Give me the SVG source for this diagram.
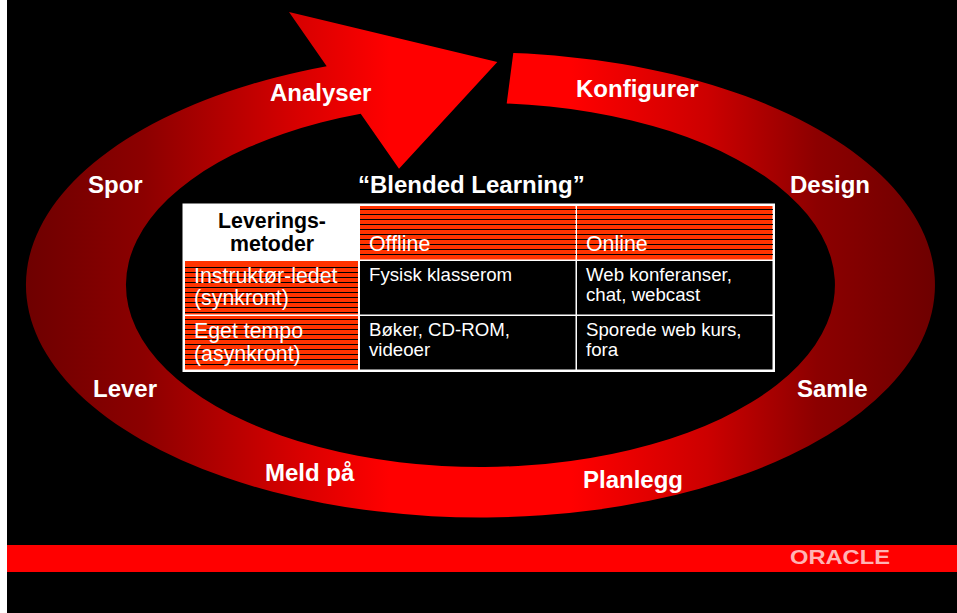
<svg xmlns="http://www.w3.org/2000/svg" width="957" height="613" viewBox="0 0 957 613">
<style>
text{font-family:"Liberation Sans",Arial,sans-serif}
.l{font-size:24px;font-weight:bold;fill:#fff}
.h{font-size:21.33px;font-weight:bold;fill:#000;text-anchor:middle}
.m{font-size:21.33px;fill:#fff}
.c{font-size:18.67px;fill:#fff}
.o{fill:#ff3300}
.s{stroke:#000;stroke-width:1;fill:none;shape-rendering:crispEdges}
</style>
<defs>
<linearGradient id="g" gradientUnits="userSpaceOnUse" x1="26" y1="0" x2="935" y2="0">
<stop offset="0" stop-color="#6e0000"/>
<stop offset=".13" stop-color="#8c0000"/>
<stop offset=".3" stop-color="#d80000"/>
<stop offset=".4" stop-color="#ff0000"/>
<stop offset=".6" stop-color="#ff0000"/>
<stop offset=".75" stop-color="#cc0000"/>
<stop offset=".87" stop-color="#8c0000"/>
<stop offset="1" stop-color="#6e0000"/>
</linearGradient>
</defs>
<rect width="957" height="613" fill="#fff"/>
<rect x="7" width="950" height="613" fill="#000"/>
<path id="ring" fill="url(#g)" d="M513.3,53.1A454.5,232.5 0 1 1 326.7,66.2L289,12L497.3,62L399,168.7L360.7,113.7A354.5,182 0 1 0 506.7,103.5Z"/>
<g id="labels">
<text class="l" x="270" y="101">Analyser</text>
<text class="l" x="576" y="97">Konfigurer</text>
<text class="l" x="88" y="193">Spor</text>
<text class="l" x="790" y="193">Design</text>
<text class="l" x="93" y="397">Lever</text>
<text class="l" x="797" y="397">Samle</text>
<text class="l" x="265" y="481">Meld på</text>
<text class="l" x="583" y="488">Planlegg</text>
<text class="l" x="358" y="193">“Blended Learning”</text>
</g>
<g id="table">
<rect x="182.5" y="203.5" width="592.5" height="168.5" fill="#fff"/>
<rect x="185" y="261" width="173" height="53.5" class="o"/>
<rect x="185" y="316" width="173" height="53.5" class="o"/>
<rect x="360" y="206" width="215.5" height="53.5" class="o"/>
<rect x="577" y="206" width="195.5" height="53.5" class="o"/>
<rect x="360" y="261" width="215.5" height="53.5"/>
<rect x="577" y="261" width="195.5" height="53.5"/>
<rect x="360" y="316" width="215.5" height="53.5"/>
<rect x="577" y="316" width="195.5" height="53.5"/>
<path class="s" d="M360 209.5H575.5M360 214.5H575.5M360 219.5H575.5M360 224.5H575.5M360 229.5H575.5M360 234.5H575.5M360 239.5H575.5M360 244.5H575.5M360 249.5H575.5M360 254.5H575.5M577 209.5H772.5M577 214.5H772.5M577 219.5H772.5M577 224.5H772.5M577 229.5H772.5M577 234.5H772.5M577 239.5H772.5M577 244.5H772.5M577 249.5H772.5M577 254.5H772.5"/>
<path class="s" d="M185 267.5H358M185 272.5H358M185 277.5H358M185 282.5H358M185 287.5H358M185 292.5H358M185 297.5H358M185 302.5H358M185 307.5H358M185 312.5H358M185 319.5H358M185 324.5H358M185 329.5H358M185 334.5H358M185 339.5H358M185 344.5H358M185 349.5H358M185 354.5H358M185 359.5H358M185 364.5H358"/>
<text class="h" x="272" y="227.5">Leverings-</text>
<text class="h" x="272" y="251">metoder</text>
<text class="m" x="369" y="250.5">Offline</text>
<text class="m" x="586" y="250.5">Online</text>
<text class="m" x="194" y="282.5">Instruktør-ledet</text>
<text class="m" x="194" y="305">(synkront)</text>
<text class="m" x="194" y="338">Eget tempo</text>
<text class="m" x="194" y="361">(asynkront)</text>
<text class="c" x="369" y="281">Fysisk klasserom</text>
<text class="c" x="586" y="281">Web konferanser,</text>
<text class="c" x="586" y="301">chat, webcast</text>
<text class="c" x="369" y="336">Bøker, CD-ROM,</text>
<text class="c" x="369" y="356">videoer</text>
<text class="c" x="586" y="336">Sporede web kurs,</text>
<text class="c" x="586" y="356">fora</text>
</g>
<g id="footer">
<rect x="7" y="545" width="950" height="27" fill="#ff0000"/>
<text x="790" y="564" font-size="19.5" font-weight="bold" fill="#ffb4b4" textLength="100" lengthAdjust="spacingAndGlyphs">ORACLE</text>
</g>
</svg>
